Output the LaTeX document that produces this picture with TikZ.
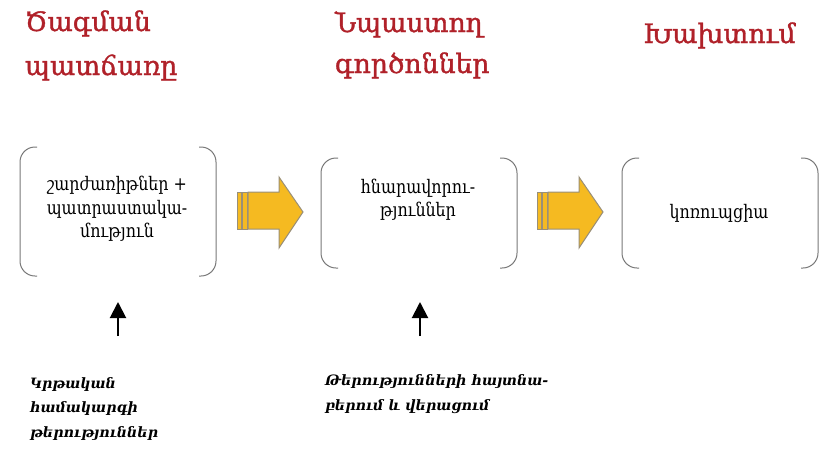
\documentclass[tikz,border=0pt]{standalone}
\usepackage{fontspec}
\setmainfont{DejaVu Serif}
\newfontfamily\headfont{DejaVu Serif}[FakeBold=1.3]
\newfontfamily\boxfont{DejaVu Serif}[FakeStretch=0.85]
\usetikzlibrary{arrows.meta}
\newlength{\du}
\setlength{\du}{0.75pt}

\begin{document}
\begin{tikzpicture}[even odd rule,
  title/.style={anchor=base west,inner sep=0pt,outer sep=0pt,color=titlecolor,font=\headfont\fontsize{20}{24}\selectfont},
  boxline/.style={anchor=base,inner sep=0pt,outer sep=0pt,font=\boxfont\fontsize{14}{17}\selectfont},
  noteline/.style={anchor=base west,inner sep=0pt,outer sep=0pt,font=\fontsize{10.7}{14}\selectfont\bfseries\itshape},
  bracket/.style={draw=bracketcolor,line width=1\du,rounded corners=15\du},
  blockarrow/.style={fill=arrowfill,draw=arrowline,line width=1\du,line join=miter},
  uparrow/.style={-{Triangle[length=12pt,width=12pt]},line width=1.5pt}]
\pgftransformxscale{1.000000}
\pgftransformyscale{-1.000000}
\definecolor{titlecolor}{rgb}{0.690000, 0.130000, 0.160000}
\definecolor{bracketcolor}{rgb}{0.470000, 0.470000, 0.470000}
\definecolor{arrowfill}{rgb}{0.960000, 0.730000, 0.130000}
\definecolor{arrowline}{rgb}{0.600000, 0.560000, 0.470000}
\useasboundingbox (0\du,0\du) rectangle (825\du,454\du);
% headings
\node[title] (cause1) at (25\du,31\du){Ծագման};
\node[title] (cause2) at (25\du,75\du){պատճառը};
\node[title] (factor1) at (335\du,32\du){Նպաստող};
\node[title] (factor2) at (335\du,73\du){գործոններ};
\node[title] (breach) at (643\du,43\du){Խախտում};
% brackets
\draw[bracket] (37\du,147\du)--(20\du,147\du)--(20\du,276\du)--(37\du,276\du);
\draw[bracket] (199\du,147\du)--(216\du,147\du)--(216\du,276\du)--(199\du,276\du);
\draw[bracket] (338\du,158\du)--(321\du,158\du)--(321\du,268\du)--(338\du,268\du);
\draw[bracket] (500\du,158\du)--(517\du,158\du)--(517\du,268\du)--(500\du,268\du);
\draw[bracket] (639\du,158\du)--(622\du,158\du)--(622\du,268\du)--(639\du,268\du);
\draw[bracket] (801\du,158\du)--(818\du,158\du)--(818\du,268\du)--(801\du,268\du);
% box texts
\node[boxline] (motive1) at (117\du,190\du){շարժառիթներ +};
\node[boxline] (motive2) at (117\du,214\du){պատրաստակա-};
\node[boxline] (motive3) at (117\du,237\du){մություն};
\node[boxline] (chance1) at (418\du,193\du){հնարավորու-};
\node[boxline] (chance2) at (418\du,216\du){թյուններ};
\node[boxline] (corrupt) at (719\du,218\du){կոռուպցիա};
% block arrows
\filldraw[blockarrow] (237\du,192\du) rectangle (241\du,229\du);
\filldraw[blockarrow] (242\du,192\du) rectangle (247\du,229\du);
\filldraw[blockarrow] (248\du,192\du)--(279\du,192\du)--(279\du,177\du)--(303\du,212\du)--(279\du,248\du)--(279\du,229\du)--(248\du,229\du)--cycle;
\filldraw[blockarrow] (537\du,192\du) rectangle (541\du,229\du);
\filldraw[blockarrow] (542\du,192\du) rectangle (547\du,229\du);
\filldraw[blockarrow] (548\du,192\du)--(579\du,192\du)--(579\du,177\du)--(603\du,212\du)--(579\du,248\du)--(579\du,229\du)--(548\du,229\du)--cycle;
% up arrows
\coordinate (edu tail) at (118\du,336\du);
\coordinate (edu tip) at (118\du,302\du);
\coordinate (fix tail) at (420\du,336\du);
\coordinate (fix tip) at (420\du,302\du);
\draw[uparrow] (edu tail)--(edu tip);
\draw[uparrow] (fix tail)--(fix tip);
% notes
\node[noteline] (edu1) at (30\du,388\du){Կրթական};
\node[noteline] (edu2) at (30\du,412\du){համակարգի};
\node[noteline] (edu3) at (30\du,437\du){թերություններ};
\node[noteline] (fix1) at (325\du,385\du){Թերությունների հայտնա-};
\node[noteline] (fix2) at (325\du,410\du){բերում և վերացում};
\end{tikzpicture}
\end{document}
